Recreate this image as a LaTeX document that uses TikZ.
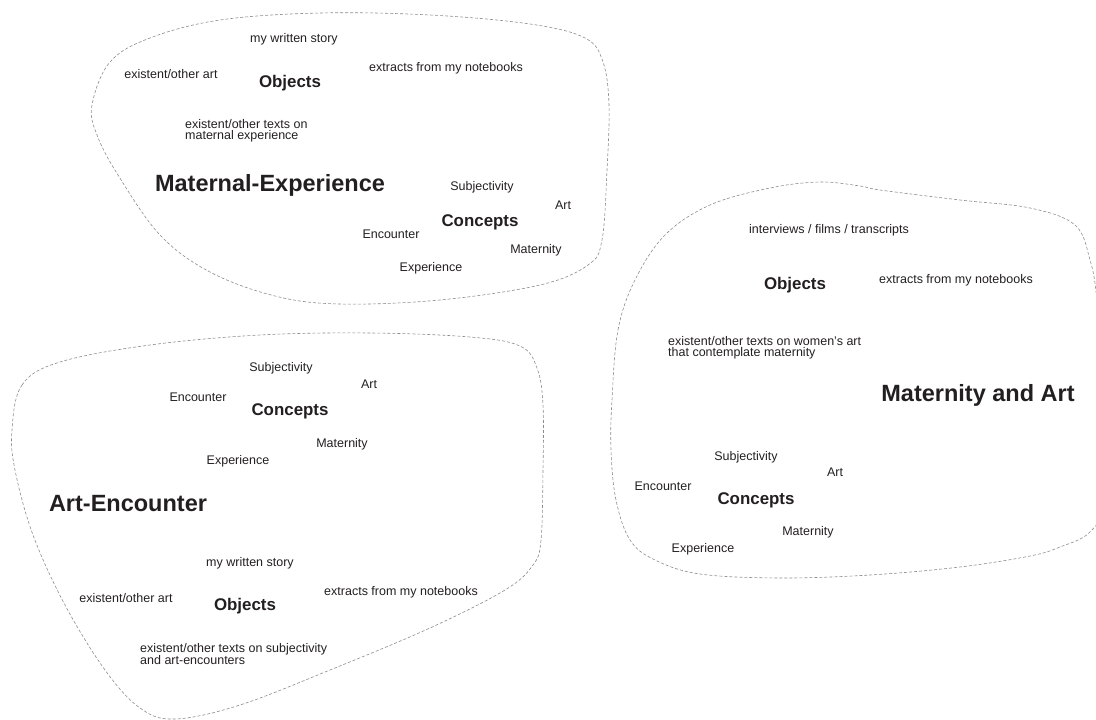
\documentclass[tikz,border=0pt]{standalone}
\usepackage{fontspec}
\setmainfont{Liberation Sans}
\definecolor{ink}{HTML}{231F20}
\definecolor{rimgray}{HTML}{8C8C8C}
\tikzset{
  item/.style={inner sep=0pt, yshift=-1pt, text=ink, font=\fontsize{12.5}{11}\selectfont},
  group/.style={inner sep=0pt, yshift=-1pt, text=ink, font=\fontsize{16.9}{18}\selectfont\bfseries},
  theme/.style={inner sep=0pt, yshift=-1pt, text=ink, font=\fontsize{23.5}{26}\selectfont\bfseries},
  blobline/.style={draw=rimgray, line width=0.6pt, dash pattern=on 3pt off 2pt},
}
\begin{document}
\begin{tikzpicture}[x=1pt, y=-1pt]
\useasboundingbox (0,0) rectangle (1096,720);
\clip (0,0) rectangle (1096,720);

% top blob
\draw[blobline] plot[smooth cycle, tension=0.6] coordinates {
  (92,105) (110,62) (150,38) (220,20) (320,13) (430,15) (530,24) (585,38)
  (603,62) (609,105) (607,170) (602,240) (588,265) (540,285) (440,300)
  (340,304) (275,296) (210,272) (160,235) (118,175) (97,135)};
\node[item] (mwstory) at (294,38) {my written story};
\node[item] (mart) at (171,73) {existent/other art};
\node[group] (mobj) at (290,82) {Objects};
\node[item] (mnotes) at (446,67) {extracts from my notebooks};
\node[item, anchor=west, align=left] (mtexts) at (185,130) {existent/other texts on\\maternal experience};
\node[theme] (mtitle) at (270,184) {Maternal-Experience};
\node[item] (msubj) at (482,186) {Subjectivity};
\node[item] (martc) at (563,204) {Art};
\node[group] (mconc) at (480,221) {Concepts};
\node[item] (menc) at (391,233) {Encounter};
\node[item] (mmat) at (536,249) {Maternity};
\node[item] (mexp) at (431,267) {Experience};

% bottom left blob
\draw[blobline] plot[smooth cycle, tension=0.6] coordinates {
  (12,430) (22,385) (60,362) (150,345) (260,335) (370,333) (470,337)
  (520,346) (537,368) (543,405) (543,470) (541,540) (533,565) (505,590)
  (430,628) (330,670) (240,705) (175,719) (140,708) (105,670) (65,605)
  (33,535) (15,470)};
\node[item] (asubj) at (281,367) {Subjectivity};
\node[item] (aart) at (369,383) {Art};
\node[item] (aenc) at (198,396) {Encounter};
\node[group] (aconc) at (290,410) {Concepts};
\node[item] (amat) at (342,443) {Maternity};
\node[item] (aexp) at (238,460) {Experience};
\node[theme] (atitle) at (128,503) {Art-Encounter};
\node[item] (awstory) at (250,562) {my written story};
\node[item] (aother) at (126,597) {existent/other art};
\node[group] (aobj) at (245,605) {Objects};
\node[item] (anotes) at (401,591) {extracts from my notebooks};
\node[item, anchor=west, align=left] (atexts) at (140,653) {existent/other texts on subjectivity\\and art-encounters};

% right blob
\draw[blobline] plot[smooth cycle, tension=0.6] coordinates {
  (612,400) (618,330) (635,280) (665,235) (710,205) (770,188) (820,182)
  (860,186) (880,190) (960,200) (1030,208) (1075,225) (1090,260) (1097,300)
  (1106,400) (1104,500) (1090,532) (1060,547) (1030,556) (960,567) (870,575)
  (780,578) (700,574) (655,560) (630,540) (616,500) (611,450)};
\node[item] (rint) at (829,229) {interviews / films / transcripts};
\node[group] (robj) at (795,284) {Objects};
\node[item] (rnotes) at (956,279) {extracts from my notebooks};
\node[item, anchor=west, align=left] (rtexts) at (668,347) {existent/other texts on women's art\\that contemplate maternity};
\node[theme] (rtitle) at (978,394) {Maternity and Art};
\node[item] (rsubj) at (746,456) {Subjectivity};
\node[item] (rart) at (835,471) {Art};
\node[item] (renc) at (663,485) {Encounter};
\node[group] (rconc) at (756,499) {Concepts};
\node[item] (rmat) at (808,531) {Maternity};
\node[item] (rexp) at (703,548) {Experience};
\end{tikzpicture}
\end{document}
